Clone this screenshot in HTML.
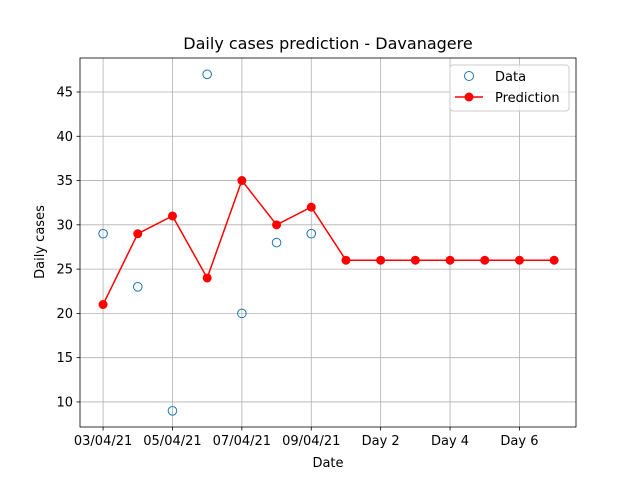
<!DOCTYPE html>
<html><head><meta charset="utf-8"><style>
body{margin:0;background:#fff;font-family:"Liberation Sans","DejaVu Sans",sans-serif}
svg text{font-family:"DejaVu Sans","Liberation Sans",sans-serif}
</style></head><body>
<svg id="chart" width="640" height="480">
<rect width="640" height="480" fill="#fff"/>
<g id="grid"></g><g id="axes"></g><g id="marks"></g>
<text x="328" y="49" font-size="16" text-anchor="middle">Daily cases prediction - Davanagere</text>
<text x="328" y="467" font-size="13" text-anchor="middle">Date</text>
<text x="44" y="242" font-size="13" text-anchor="middle" transform="rotate(-90 44 242)">Daily cases</text>
<g>
<rect x="450" y="65" width="119" height="46" rx="3" fill="#fff" fill-opacity="0.8" stroke="#ccc"/>
<circle cx="469" cy="76" r="4.5" fill="none" stroke="#1f77b4"/>
<text x="495" y="81" font-size="13">Data</text>
<line x1="455" y1="97" x2="483" y2="97" stroke="red" stroke-width="1.5"/>
<circle cx="469" cy="97" r="4.5" fill="red"/>
<text x="495" y="102" font-size="13">Prediction</text>
</g>
</svg>
<script>
const dataIdx=[0,1,2,3,4,5,6];
const dataVals=[29,23,9,47,20,28,29];
const predVals=[21,29,31,24,35,30,32,26,26,26,26,26,26,26];
const xTicks=[0,2,4,6,8,10,12];
const xTickLabels=["03/04/21","05/04/21","07/04/21","09/04/21","Day 2","Day 4","Day 6"];
const yTicks=[10,15,20,25,30,35,40,45];
const L=80,R=576,T=58,B=427;
const x0=-0.665,x1=13.63,y0=7.17,y1=48.84;
const X=v=>L+(v-x0)/(x1-x0)*(R-L);
const Y=v=>B-(v-y0)/(y1-y0)*(B-T);
const NS="http://www.w3.org/2000/svg";
function mk(t,a,p){const e=document.createElementNS(NS,t);for(const k in a)e.setAttribute(k,a[k]);p.appendChild(e);return e;}
const grid=document.getElementById('grid'),axes=document.getElementById('axes'),marks=document.getElementById('marks');
xTicks.forEach((t,i)=>{
 const g=mk('line',{x1:X(t),x2:X(t),y1:T,y2:B,stroke:'#b0b0b0','stroke-width':0.8},grid);
 
 
 mk('line',{x1:X(t),x2:X(t),y1:B,y2:B+3.5,stroke:'#000','stroke-width':0.8},axes);
 const tx=mk('text',{x:X(t),y:B+18,'font-size':13,'text-anchor':'middle'},axes);
 tx.textContent=xTickLabels[i];
 
 
});
yTicks.forEach(t=>{
 const g=mk('line',{x1:L,x2:R,y1:Y(t),y2:Y(t),stroke:'#b0b0b0','stroke-width':0.8},grid);
 
 
 mk('line',{x1:L-3.5,x2:L,y1:Y(t),y2:Y(t),stroke:'#000','stroke-width':0.8},axes);
 const tx=mk('text',{x:L-7,y:Y(t)+4.5,'font-size':13,'text-anchor':'end'},axes);
 tx.textContent=t;
 
 
});
const fr=mk('rect',{x:L,y:T,width:R-L,height:B-T,fill:'none',stroke:'#000','stroke-width':0.8},axes);


const pl=mk('polyline',{points:predVals.map((v,i)=>X(i)+','+Y(v)).join(' '),fill:'none',stroke:'red','stroke-width':1.5},marks);


predVals.forEach((v,i)=>{
 const c=mk('circle',{cx:X(i),cy:Y(v),r:4.5,fill:'red'},marks);
 
 
});
dataVals.forEach((v,i)=>{
 const c=mk('circle',{cx:X(dataIdx[i]),cy:Y(v),r:4.3,fill:'none',stroke:'#1f77b4','stroke-width':1},marks);
 
 
});
</script>
</body></html>
